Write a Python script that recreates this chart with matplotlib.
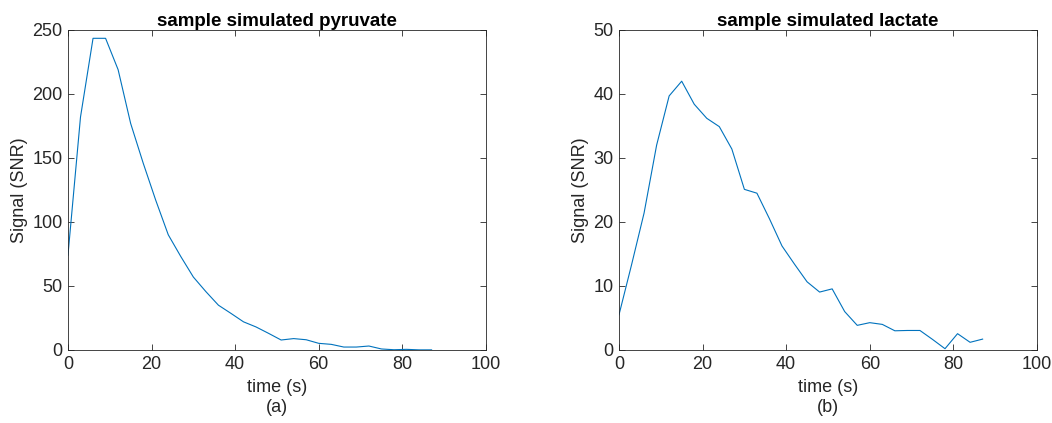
import numpy as np
import matplotlib
matplotlib.use('Agg')
import matplotlib.pyplot as plt

# sample times (s)
t = np.arange(0, 88, 3)

# simulated signals
pyruvate = [74, 182, 243.5, 243.5, 219, 177, 146, 117, 90, 73,
            57, 45.6, 35, 28.6, 22, 18, 13, 7.8, 8.9, 8,
            5.2, 4.4, 2.3, 2.3, 3.1, 0.8, 0.2, 0.5, 0.1, 0.1]
lactate = [5.5, 13.3, 21.4, 32.0, 39.7, 42.0, 38.4, 36.2, 34.9, 31.4,
           25.1, 24.5, 20.5, 16.25, 13.4, 10.65, 9.05, 9.55, 6.0, 3.85,
           4.27, 4.0, 3.0, 3.05, 3.05, 1.66, 0.2, 2.55, 1.2, 1.7]

plt.rcParams['font.family'] = ['Liberation Sans', 'DejaVu Sans']
axcol = '#262626'
linecol = '#0072BD'

fig = plt.figure(figsize=(10.52, 4.23), dpi=100)
ax1 = fig.add_axes([0.0646, 0.1726, 0.3973, 0.7565])
ax2 = fig.add_axes([0.5884, 0.1726, 0.3973, 0.7565])

panels = [(ax1, pyruvate, 'sample simulated pyruvate', 250, '(a)'),
          (ax2, lactate, 'sample simulated lactate', 50, '(b)')]

for ax, y, title, ymax, tag in panels:
    ax.plot(t, y, color=linecol, linewidth=0.8)
    ax.set_xlim(0, 100)
    ax.set_ylim(0, ymax)
    ax.set_xticks(np.arange(0, 101, 20))
    ax.set_yticks(np.linspace(0, ymax, 6))
    ax.tick_params(direction='in', top=True, right=True, length=4,
                   width=0.6, colors=axcol, labelsize=13, pad=4)
    for s in ax.spines.values():
        s.set_color(axcol)
        s.set_linewidth(0.6)
    ax.set_title(title, fontsize=13.5, fontweight='bold', pad=3)
    ax.set_xlabel('time (s)\n' + tag, fontsize=13,
                  color=axcol, linespacing=1.22, labelpad=4.5)
    ax.set_ylabel('Signal (SNR)', fontsize=13, color=axcol, labelpad=3)

plt.savefig('out.png', dpi=100)
